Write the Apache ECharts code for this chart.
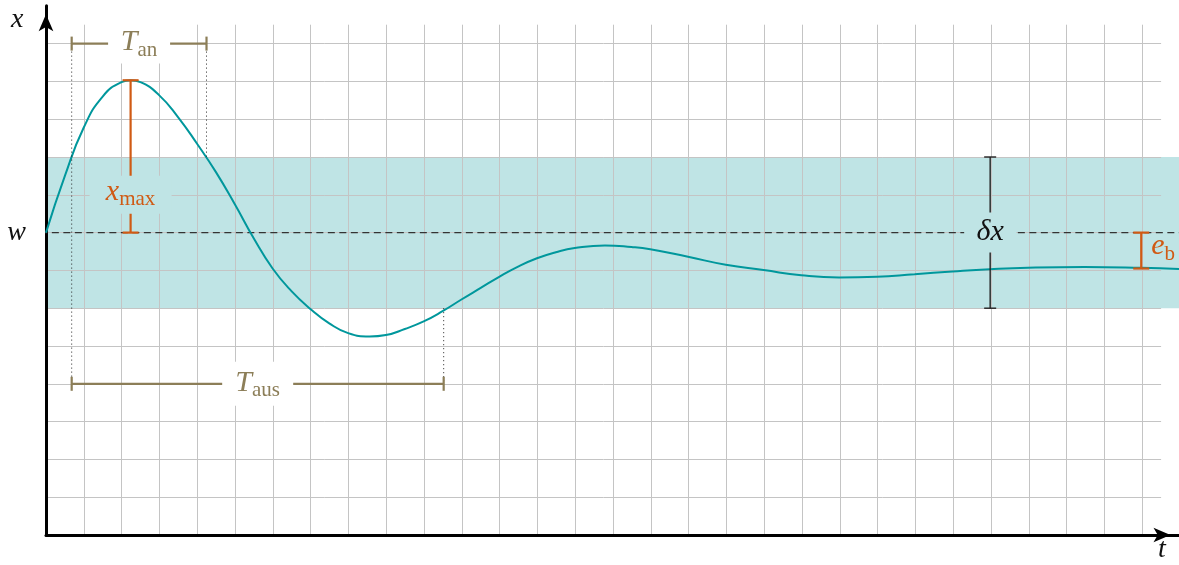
<!DOCTYPE html>
<html>
<head>
<meta charset="utf-8">
<script src="https://cdn.jsdelivr.net/npm/echarts@6/dist/echarts.min.js"></script>
<style>html,body{margin:0;padding:0;background:#fff}#chart{width:1179px;height:565px}</style>
</head>
<body>
<div id="chart"></div>
<script>
// ---- data ----
const tValues = [0, 0.5, 1.0, 1.5, 2.0, 2.24, 2.5, 3.0, 3.5, 4.0, 4.5, 5.0, 5.5, 6.0, 6.5, 7.0, 7.5, 8.0, 8.57, 9.0, 9.5, 10.0, 10.5, 11, 11.5, 12, 12.5, 13, 13.5, 14, 14.8, 15.5, 16, 17, 18, 19, 20, 21, 22, 23, 24, 25, 26, 27.5, 29, 30];
const xValues = [8, 9.5, 10.78, 11.6, 11.98, 12.03, 11.98, 11.63, 11.05, 10.35, 9.6, 8.75, 7.85, 7.05, 6.45, 5.98, 5.6, 5.34, 5.25, 5.29, 5.45, 5.65, 5.92, 6.23, 6.53, 6.83, 7.1, 7.32, 7.48, 7.59, 7.66, 7.62, 7.56, 7.36, 7.15, 7.01, 6.87, 6.81, 6.83, 6.9, 6.97, 7.03, 7.07, 7.09, 7.07, 7.04];
const tRange = [0, 30];
const xRange = [0, 14];
const gridTMax = 29.5;
const gridXMax = 13.5;
const wLevel = 8;
const bandRange = [6, 10];
const tanSpan = [0.68, 4.25];
const tanLevel = 13;
const tausSpan = [0.68, 10.53];
const tausLevel = 4;
const tanDropTo = 10;     // curve value where right T_an guide ends
const tausDropTo = 6;     // curve value where right T_aus guide ends
const xmaxAt = 2.24;
const xmaxRange = [8, 12.03];
const xmaxLabelAt = 9;
const dxAt = 25;
const dxRange = [6, 10];
const ebAt = 29;
const ebRange = [8, 7.05];

// ---- layout / styles ----
const U = 37.8, OX = 46, OY = 535;
const FONT = "'Liberation Serif', 'DejaVu Serif', serif";
const C_CURVE = '#00979c', C_BAND = '#bfe4e5', C_ORANGE = '#d05a14', C_OLIVE = '#8c7e58', C_GRID = '#c4c4c4';

function richLabel(color, main, sub) {
  return {
    text: sub ? '{m|' + main + '}{s|' + sub + '}' : '{m|' + main + '}',
    rich: {
      m: {fontFamily: FONT, fontStyle: 'italic', fontSize: 30, lineHeight: 36, fill: color, color: color},
      s: {fontFamily: FONT, fontSize: 21, verticalAlign: 'bottom', fill: color, color: color}
    }
  };
}

const chart = echarts.init(document.getElementById('chart'), null, {renderer: 'canvas'});

function annotations(params, api) {
  const c = (t, x) => api.coord([t, x]);
  const kids = [];
  const line = (p1, p2, stroke, w, dash) => kids.push({type: 'line', shape: {x1: p1[0], y1: p1[1], x2: p2[0], y2: p2[1]}, style: {stroke, lineWidth: w, lineDash: dash || null}});
  const vBar = (t, r, stroke, w, capW) => {
    const a = c(t, r[0]), b = c(t, r[1]);
    line(a, b, stroke, w);
    line([a[0] - capW / 2, a[1]], [a[0] + capW / 2, a[1]], stroke, w);
    line([b[0] - capW / 2, b[1]], [b[0] + capW / 2, b[1]], stroke, w);
  };
  const hBar = (span, lvl, stroke, w, capH) => {
    const a = c(span[0], lvl), b = c(span[1], lvl);
    line(a, b, stroke, w);
    line([a[0], a[1] - capH / 2], [a[0], a[1] + capH / 2], stroke, w);
    line([b[0], b[1] - capH / 2], [b[0], b[1] + capH / 2], stroke, w);
  };
  const boxes = [], texts = [];
  const label = (p, bw, bh, fill, color, main, sub, dy) => {
    boxes.push({type: 'rect', shape: {x: p[0] - bw / 2, y: p[1] - bh / 2, width: bw, height: bh}, style: {fill}});
    const r = richLabel(color, main, sub);
    texts.push({type: 'text', x: p[0], y: p[1] + (dy || 0), style: Object.assign({align: 'center', verticalAlign: 'middle'}, r)});
  };
  // dotted guides
  const dot = [1, 3];
  line(c(tanSpan[0], tanLevel), c(tausSpan[0], tausLevel), '#222', 1, dot);
  line(c(tanSpan[1], tanLevel), c(tanSpan[1], tanDropTo), '#222', 1, dot);
  line(c(tausSpan[1], tausDropTo), c(tausSpan[1], tausLevel), '#222', 1, dot);
  // brackets
  hBar(tanSpan, tanLevel, C_OLIVE, 2.2, 14);
  hBar(tausSpan, tausLevel, C_OLIVE, 2.2, 14);
  vBar(xmaxAt, xmaxRange, C_ORANGE, 2.2, 16);
  vBar(dxAt, dxRange, '#222', 1.4, 12);
  vBar(ebAt, ebRange, C_ORANGE, 2.2, 16);
  // labels
  label(c((tanSpan[0] + tanSpan[1]) / 2, tanLevel), 62, 40, '#fff', C_OLIVE, 'T', 'an', -1);
  label(c((tausSpan[0] + tausSpan[1]) / 2, tausLevel), 71, 44, '#fff', C_OLIVE, 'T', 'aus', -1);
  label(c(xmaxAt, xmaxLabelAt), 82, 38, C_BAND, C_ORANGE, 'x', 'max', -3);
  label(c(dxAt, wLevel), 52, 40, C_BAND, '#111', 'δx', null, 0);
  const eb = c(ebAt, (ebRange[0] + ebRange[1]) / 2);
  const r = richLabel(C_ORANGE, 'e', 'b');
  texts.push({type: 'text', x: eb[0] + 10, y: eb[1] - 4, style: Object.assign({align: 'left', verticalAlign: 'middle'}, r)});
  return {type: 'group', children: kids.concat(boxes, texts)};
}

const axisLineStyle = {show: true, onZero: false, symbol: ['none', 'arrow'], symbolSize: [11, 17], symbolOffset: [0, -8.5], lineStyle: {color: '#000', width: 3}};

chart.setOption({
  animation: false,
  backgroundColor: '#fff',
  grid: [
    {left: OX, top: OY - gridXMax * U, width: gridTMax * U, height: gridXMax * U},
    {left: OX, top: OY - (xRange[1] - xRange[0]) * U, width: (tRange[1] - tRange[0]) * U, height: (xRange[1] - xRange[0]) * U}
  ],
  xAxis: [
    {gridIndex: 0, type: 'value', min: 0, max: gridTMax, interval: 1, axisLine: {show: false}, axisTick: {show: false}, axisLabel: {show: false},
      splitLine: {show: true, showMinLine: false, showMaxLine: false, lineStyle: {color: C_GRID, width: 1}}},
    {gridIndex: 1, type: 'value', min: tRange[0], max: tRange[1], axisLine: axisLineStyle, axisTick: {show: false}, axisLabel: {show: false}, splitLine: {show: false}}
  ],
  yAxis: [
    {gridIndex: 0, type: 'value', min: 0, max: gridXMax, interval: 1, axisLine: {show: false}, axisTick: {show: false}, axisLabel: {show: false},
      splitLine: {show: true, showMinLine: false, showMaxLine: false, lineStyle: {color: C_GRID, width: 1}}},
    {gridIndex: 1, type: 'value', min: xRange[0], max: xRange[1], interval: 1, axisLine: axisLineStyle, axisTick: {show: false},
      axisLabel: {show: true, margin: 20, formatter: v => (v === wLevel ? 'w' : ''), fontFamily: FONT, fontStyle: 'italic', fontSize: 28, color: '#111'},
      splitLine: {show: false}}
  ],
  series: [
    {type: 'custom', xAxisIndex: 1, yAxisIndex: 1, z: -1, silent: true, clip: false, data: [[0]],
      renderItem: (p, api) => {
        const a = api.coord([tRange[0], bandRange[1]]), b = api.coord([tRange[1], bandRange[0]]);
        return {type: 'rect', shape: {x: a[0], y: a[1], width: b[0] - a[0], height: b[1] - a[1]}, style: {fill: C_BAND}};
      }},
    {type: 'line', xAxisIndex: 1, yAxisIndex: 1, z: 2, silent: true, clip: false, showSymbol: false, symbol: 'none',
      data: [[tRange[0] - 0.15, wLevel], [tRange[1], wLevel]], lineStyle: {color: '#333', width: 1.2, type: [7, 4.5]}},
    {type: 'line', xAxisIndex: 1, yAxisIndex: 1, z: 3, silent: true, showSymbol: false, symbol: 'none', smooth: 0.5,
      data: tValues.map((t, i) => [t, xValues[i]]), lineStyle: {color: C_CURVE, width: 2}},
    {type: 'custom', xAxisIndex: 1, yAxisIndex: 1, z: 4, silent: true, clip: false, data: [[0]], renderItem: annotations}
  ],
  graphic: [
    {type: 'text', left: 11, top: 6, style: {text: 'x', font: "italic 28px 'Liberation Serif'", fill: '#111'}},
    {type: 'text', left: 1158, top: 536, style: {text: 't', font: "italic 28px 'Liberation Serif'", fill: '#111'}}
  ]
});
</script>
</body>
</html>
